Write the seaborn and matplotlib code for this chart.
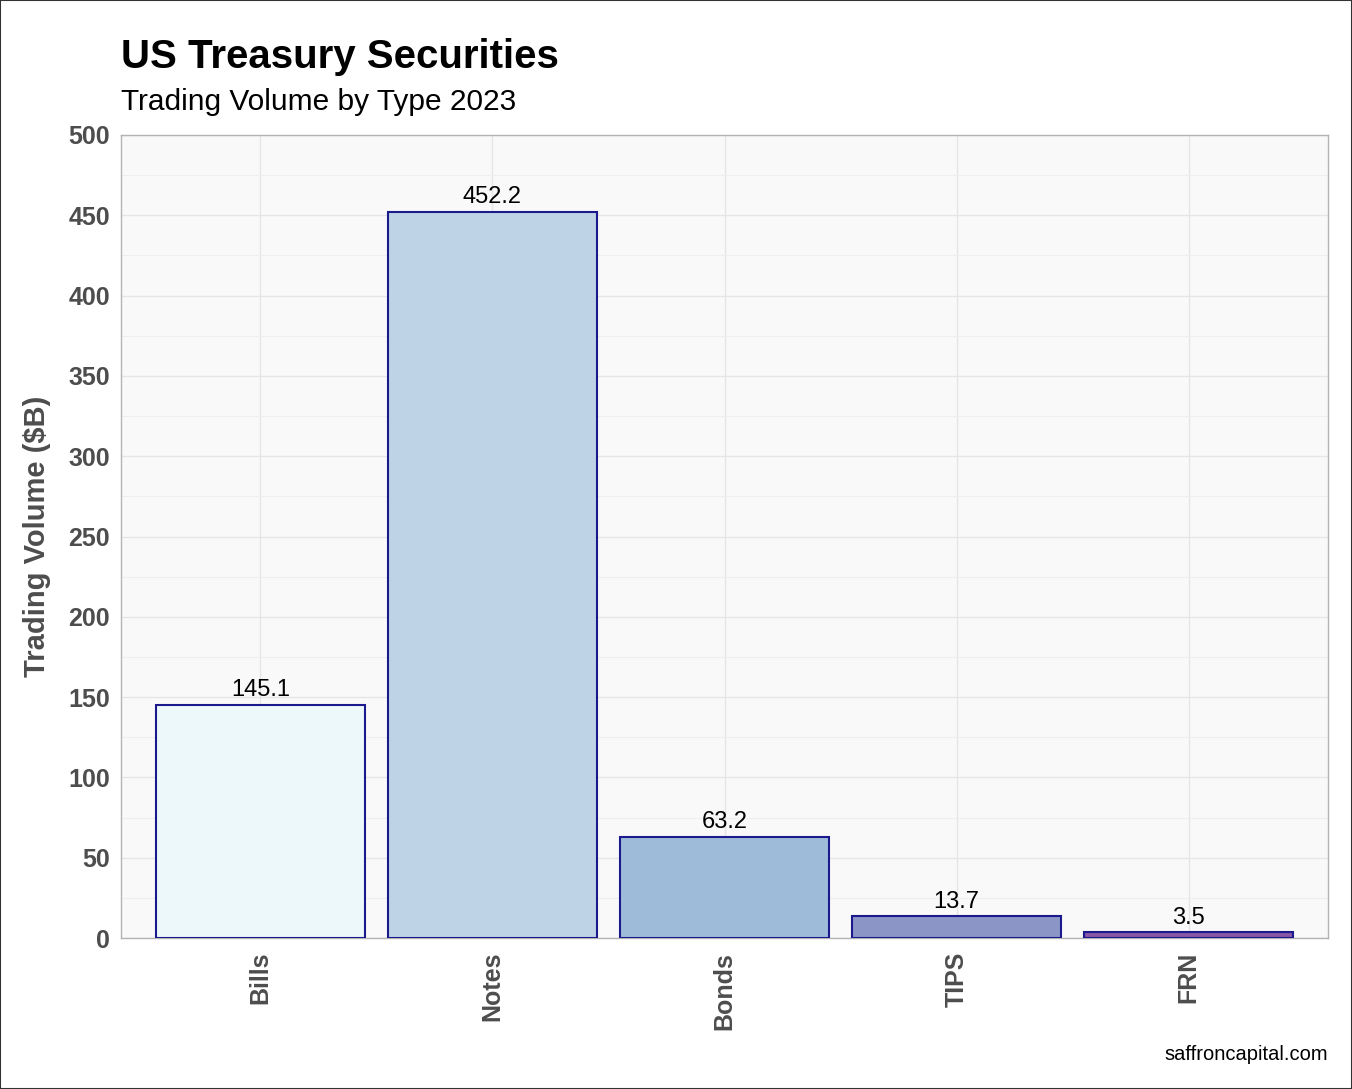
import matplotlib
matplotlib.use("Agg")
import matplotlib.pyplot as plt
import seaborn as sns
import pandas as pd
from matplotlib.patches import Rectangle
from matplotlib.ticker import MultipleLocator

# Trading volume by security type ($B)
categories = ["Bills", "Notes", "Bonds", "TIPS", "FRN"]
volumes = [145.1, 452.2, 63.2, 13.7, 3.5]
bar_colors = ["#EDF8FB", "#BFD3E6", "#9EBCDA", "#8C96C6", "#8856A7"]
y_ticks = [0, 50, 100, 150, 200, 250, 300, 350, 400, 450, 500]

df = pd.DataFrame({"type": categories, "volume": volumes})

sns.set_theme(style="whitegrid")
plt.rcParams["font.family"] = ["Liberation Sans", "DejaVu Sans"]

fig = plt.figure(figsize=(13.52, 10.89), dpi=100)
fig.patch.set_facecolor("white")
ax = fig.add_axes([121 / 1352, 1 - 938 / 1089, (1328 - 121) / 1352, (938 - 135) / 1089])
ax.set_facecolor("#F9F9F9")

sns.barplot(data=df, x="type", y="volume", hue="type", palette=bar_colors,
            saturation=1, width=0.9, edgecolor="#1A1A8C", linewidth=1.5,
            legend=False, ax=ax, zorder=3)

for i, v in enumerate(volumes):
    ax.annotate(f"{v:.1f}", (i, v), xytext=(0, 2.5), textcoords="offset points",
                ha="center", va="bottom", fontsize=17, color="black", zorder=4)

ax.set_xlim(-0.6, 4.6)
ax.set_ylim(0, 500)
ax.set_yticks(y_ticks)
ax.yaxis.set_minor_locator(MultipleLocator(25))
ax.grid(True, which="major", color="#E6E6E6", linewidth=1.0, zorder=0)
ax.grid(True, which="minor", axis="y", color="#EEEEEE", linewidth=0.8, zorder=0)
ax.set_axisbelow(True)

for s in ax.spines.values():
    s.set_visible(True)
    s.set_color("#B3B3B3")
    s.set_linewidth(1.0)

ax.tick_params(axis="both", which="both", length=0, pad=6)
ax.tick_params(axis="y", labelsize=18, labelcolor="#4D4D4D", pad=8)
ax.tick_params(axis="x", labelsize=18, labelcolor="#4D4D4D", rotation=90, pad=10)
for lab in ax.get_yticklabels() + ax.get_xticklabels():
    lab.set_fontweight("bold")

ax.set_xlabel("")
ax.set_ylabel("Trading Volume ($B)", fontsize=21, fontweight="bold",
              color="#4D4D4D", labelpad=12)

fig.text(121 / 1352, 1 - 57 / 1089, "US Treasury Securities", fontsize=29,
         fontweight="bold", color="black", ha="left", va="center")
fig.text(121 / 1352, 1 - 102 / 1089, "Trading Volume by Type 2023", fontsize=21.5,
         color="black", ha="left", va="center")
fig.text(1328 / 1352, 1 - 1055 / 1089, "saffroncapital.com", fontsize=14.5,
         color="black", ha="right", va="center")

fig.patches.append(Rectangle((0, 0), 1, 1, transform=fig.transFigure, fill=False,
                             edgecolor="#333333", linewidth=1.5))

fig.savefig("out.png", dpi=100)
